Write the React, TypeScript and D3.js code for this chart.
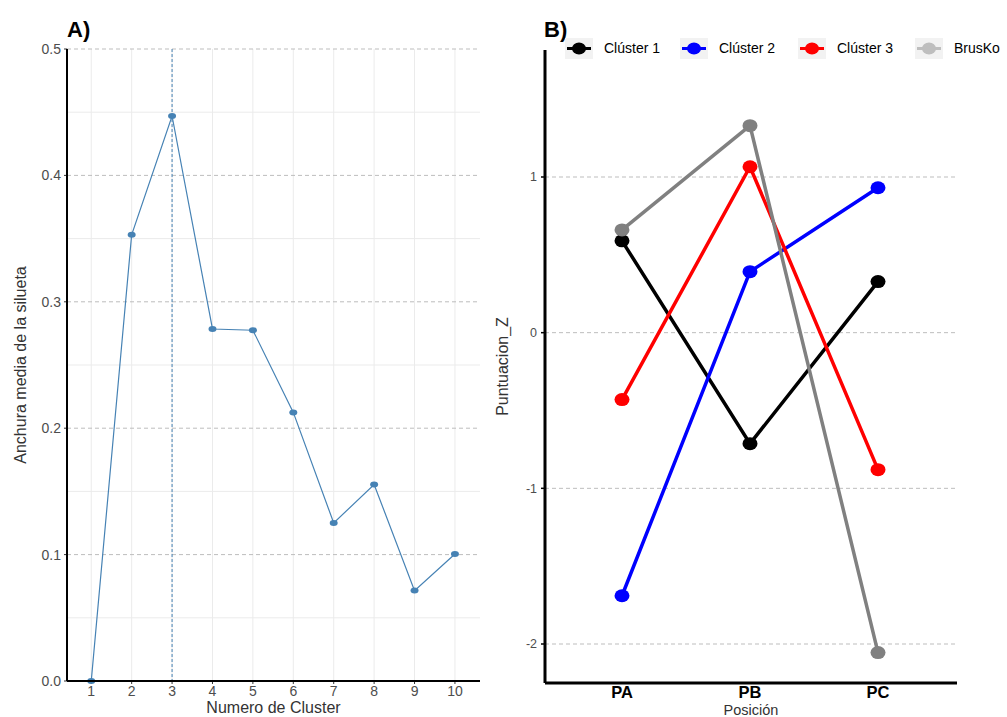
import React from "react";
import * as d3 from "d3";

// Panel A: silhouette width by number of clusters
const clusterNumbers = [1, 2, 3, 4, 5, 6, 7, 8, 9, 10];
const silhouetteValues = [0.0, 0.353, 0.447, 0.2785, 0.2775, 0.2125, 0.125, 0.1555, 0.0715, 0.1005];
const silhouetteTicks = [0.0, 0.1, 0.2, 0.3, 0.4, 0.5];
const optimalK = 3;

// Panel B: z-scores by position
const positions = ["PA", "PB", "PC"];
const seriesNames = ["Clúster 1", "Clúster 2", "Clúster 3", "BrusKo"];
const cluster1 = [0.59, -0.713, 0.328];
const cluster2 = [-1.69, 0.392, 0.931];
const cluster3 = [-0.43, 1.066, -0.88];
const brusko = [0.66, 1.33, -2.055];
const zTicks = [-2, -1, 0, 1];
const seriesColors = ["#000000", "#0000FF", "#FF0000", "#808080"];
const legendColors = ["#000000", "#0000FF", "#FF0000", "#BEBEBE"];

const font = "'Liberation Sans', Arial, sans-serif";

const PanelA = () => {
  const left = 67, right = 480, top = 49, bottom = 681;
  const x = d3.scaleLinear().domain([0.4, 10.62]).range([left, right]);
  const y = d3.scaleLinear().domain([0, 0.5]).range([bottom, top]);
  const line = d3
    .line<number>()
    .x((_, i) => x(clusterNumbers[i]))
    .y((d) => y(d));
  const minor = d3.range(0.05, 0.5, 0.1);

  return (
    <g fontFamily={font}>
      {minor.map((m) => (
        <line key={"mn" + m} x1={left} x2={right} y1={y(m)} y2={y(m)} stroke="#ebebeb" strokeWidth={1} />
      ))}
      {clusterNumbers.map((c) => (
        <line key={"vx" + c} x1={x(c)} x2={x(c)} y1={top} y2={bottom} stroke="#ebebeb" strokeWidth={1} />
      ))}
      {silhouetteTicks.map((t) => (
        <g key={"yt" + t}>
          <line x1={left} x2={right} y1={y(t)} y2={y(t)} stroke="#bdbdbd" strokeDasharray="4,3" strokeWidth={1} />
          <line x1={left - 3} x2={left} y1={y(t)} y2={y(t)} stroke="#333" />
          <text x={left - 6} y={y(t)} dy="0.35em" textAnchor="end" fontSize={14} fill="#4d4d4d">
            {t.toFixed(1)}
          </text>
        </g>
      ))}
      {clusterNumbers.map((c) => (
        <g key={"xt" + c}>
          <line x1={x(c)} x2={x(c)} y1={bottom} y2={bottom + 3} stroke="#333" />
          <text x={x(c)} y={bottom + 15} textAnchor="middle" fontSize={14} fill="#4d4d4d">
            {c}
          </text>
        </g>
      ))}
      <line x1={x(optimalK)} x2={x(optimalK)} y1={top} y2={bottom} stroke="#4682B4" strokeDasharray="3,2" strokeWidth={1} />
      <path d={line(silhouetteValues) || ""} fill="none" stroke="#4682B4" strokeWidth={1.2} />
      {silhouetteValues.map((v, i) => (
        <ellipse key={"p" + i} cx={x(clusterNumbers[i])} cy={y(v)} rx={4} ry={3} fill="#4682B4" />
      ))}
      <line x1={left} x2={left} y1={top} y2={bottom} stroke="#000" strokeWidth={2} />
      <line x1={left} x2={right} y1={bottom} y2={bottom} stroke="#000" strokeWidth={2} />
      <text x={(left + right) / 2} y={713} textAnchor="middle" fontSize={16} fill="#333">
        Numero de Cluster
      </text>
      <text transform={`translate(26,${(top + bottom) / 2}) rotate(-90)`} textAnchor="middle" fontSize={16} fill="#333">
        Anchura media de la silueta
      </text>
      <text x={67} y={37} fontSize={22} fontWeight="bold" fill="#000">
        A)
      </text>
    </g>
  );
};

const PanelB = () => {
  const left = 545, right = 957, top = 50, bottom = 683;
  const x = d3.scalePoint().domain(positions).range([622, 878]);
  const y = d3.scaleLinear().domain([-2, 1]).range([644, 177]);
  const allSeries = [cluster1, cluster2, cluster3, brusko];
  const line = d3
    .line<number>()
    .x((_, i) => x(positions[i]) as number)
    .y((d) => y(d));
  const legendX = [565, 680, 798, 915];

  return (
    <g fontFamily={font}>
      {zTicks.map((t) => (
        <g key={"zt" + t}>
          <line x1={left} x2={right} y1={y(t)} y2={y(t)} stroke="#bdbdbd" strokeDasharray="4,3" strokeWidth={1} />
          <line x1={left - 4} x2={left} y1={y(t)} y2={y(t)} stroke="#000" strokeWidth={1.5} />
          <text x={left - 8} y={y(t)} dy="0.35em" textAnchor="end" fontSize={12.5} fill="#4d4d4d">
            {t}
          </text>
        </g>
      ))}
      {allSeries.map((s, k) => (
        <g key={"s" + k}>
          <path d={line(s) || ""} fill="none" stroke={seriesColors[k]} strokeWidth={3.5} />
          {s.map((v, i) => (
            <ellipse key={i} cx={x(positions[i]) as number} cy={y(v)} rx={7.5} ry={6.5} fill={seriesColors[k]} />
          ))}
        </g>
      ))}
      <line x1={left} x2={left} y1={top} y2={bottom} stroke="#000" strokeWidth={3} />
      <line x1={left} x2={right} y1={bottom} y2={bottom} stroke="#000" strokeWidth={3} />
      {positions.map((p) => (
        <text key={p} x={x(p) as number} y={bottom + 15} textAnchor="middle" fontSize={16.5} fontWeight="bold" fill="#000">
          {p}
        </text>
      ))}
      <text x={(left + right) / 2} y={715} textAnchor="middle" fontSize={14.5} fill="#333">
        Posición
      </text>
      <text transform={`translate(508,${(top + bottom) / 2}) rotate(-90)`} textAnchor="middle" fontSize={16} fill="#333">
        Puntuacion_Z
      </text>
      <text x={544} y={37} fontSize={22} fontWeight="bold" fill="#000">
        B)
      </text>
      {seriesNames.map((n, k) => (
        <g key={"lg" + k} transform={`translate(${legendX[k]},38)`}>
          <rect x={0} y={0} width={28} height={21} fill="#f2f2f2" />
          <line x1={2} x2={26} y1={10.5} y2={10.5} stroke={legendColors[k]} strokeWidth={3} />
          <ellipse cx={14} cy={10.5} rx={7} ry={6} fill={legendColors[k]} />
          <text x={39} y={10.5} dy="0.35em" fontSize={14} fill="#000">
            {n}
          </text>
        </g>
      ))}
    </g>
  );
};

export default function App() {
  return (
    <svg width={1007} height={717} style={{ position: "absolute", left: 0, top: 0, background: "#fff" }}>
      <rect width={1007} height={717} fill="#fff" />
      <PanelA />
      <PanelB />
    </svg>
  );
}
